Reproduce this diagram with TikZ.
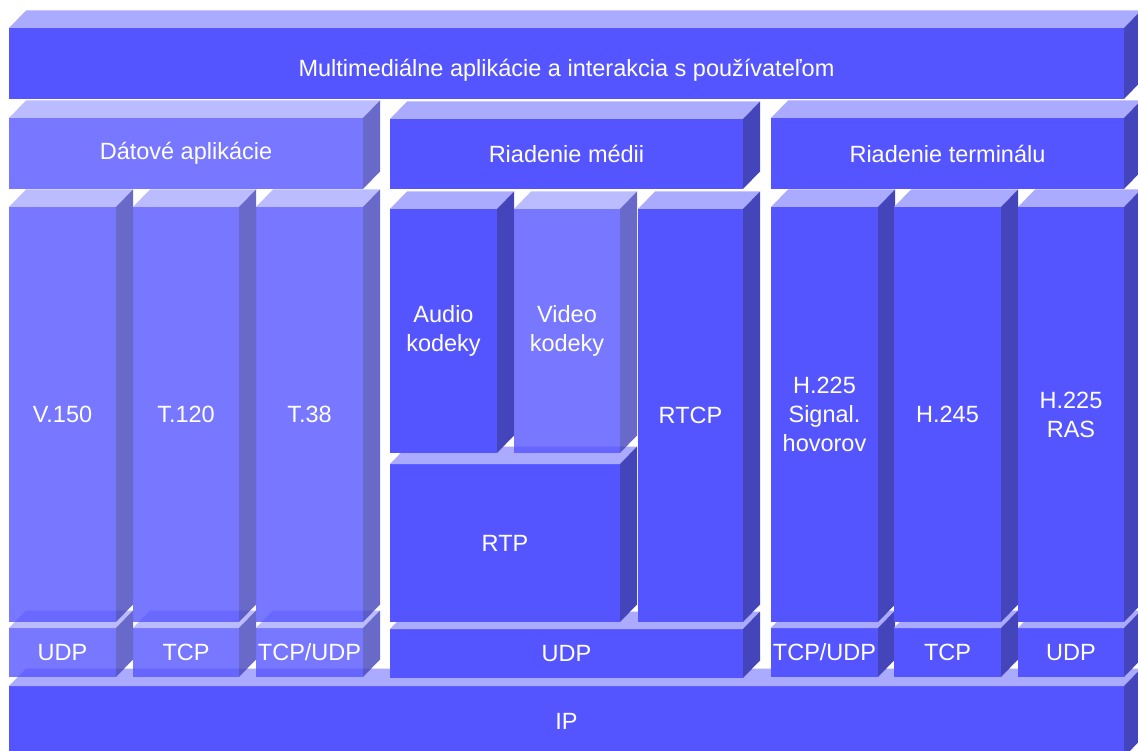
\documentclass[tikz,border=0pt]{standalone}
\usepackage{fontspec}
\setmainfont{Liberation Sans}
\begin{document}
\begin{tikzpicture}[x=1pt,y=-1pt,
  front/.style={fill=frontblue,text=white,text opacity=1,inner sep=0pt,outer sep=0pt,
    align=center,font=\fontsize{23.5}{29}\selectfont},
  topface/.style={fill=topblue},
  sideface/.style={fill=sideblue},
  solid block/.style={},
  glass/.style={fill opacity=0.8},
  low label/.style={text height=32pt,text depth=5pt},
]
\definecolor{frontblue}{HTML}{5555FF}
\definecolor{topblue}{HTML}{AAAAFF}
\definecolor{sideblue}{HTML}{4444BB}
\useasboundingbox (0,0) rectangle (1138,751);
\clip (0,0) rectangle (1138,751);

% #1 name, #2 style, #3 x1, #4 y1, #5 x2, #6 y2, #7 label
\newcommand\Prism[7]{%
  \node[front,#2,minimum width={(#5-#3)*1pt},minimum height={(#6-#4)*1pt}]
    (#1) at ({(#3+#5)/2},{(#4+#6)/2}) {#7};
  \fill[topface,#2] (#1.north west) -- (#1.north east) -- ++(17,-17.5)
    -- ([shift={(17,-17.5)}]#1.north west) -- cycle;
  \fill[sideface,#2] (#1.north east) -- ++(17,-17.5)
    -- ([shift={(17,-17.5)}]#1.south east) -- (#1.south east) -- cycle;
}

% network layer
\Prism{ip}{solid block}{9}{686}{1124}{757}{IP}

% transport layer
\Prism{udpA}{glass}{9}{628}{116}{677}{UDP}
\Prism{tcpA}{glass}{133}{628}{239}{677}{TCP}
\Prism{tcpudpA}{glass}{256}{628}{363}{677}{TCP/UDP}
\Prism{udpM}{solid block}{390}{629}{743}{678}{UDP}
\Prism{tcpudpT}{solid block}{771}{628}{878}{677}{TCP/UDP}
\Prism{tcpT}{solid block}{894}{628}{1001}{677}{TCP}
\Prism{udpT}{solid block}{1018}{628}{1124}{677}{UDP}

% data applications
\Prism{v150}{glass}{9}{207}{116}{622}{V.150}
\Prism{t120}{glass}{133}{207}{239}{622}{T.120}
\Prism{t38}{glass}{256}{207}{363}{622}{T.38}

% media control
\Prism{rtp}{solid block}{390}{464}{620}{622}{RTP}
\Prism{rtcp}{solid block}{638}{209}{743}{622}{RTCP}
\Prism{audio}{solid block}{390}{209}{497}{453}{Audio\\kodeky}
\Prism{video}{glass}{514}{209}{620}{453}{Video\\kodeky}

% terminal control
\Prism{h225s}{solid block}{771}{207}{878}{622}{H.225\\Signal.\\hovorov}
\Prism{h245}{solid block}{894}{207}{1001}{622}{H.245}
\Prism{h225r}{solid block}{1018}{207}{1124}{622}{H.225\\RAS}

% control groups
\Prism{data}{glass}{9}{118}{363}{189}{Dátové aplikácie}
\Prism{media}{solid block}{390}{119}{743}{189}{Riadenie médii}
\Prism{term}{solid block}{771}{118}{1124}{189}{Riadenie terminálu}

% application layer
\Prism{apps}{low label}{9}{28}{1124}{99}{Multimediálne aplikácie a interakcia s používateľom}
\end{tikzpicture}
\end{document}
